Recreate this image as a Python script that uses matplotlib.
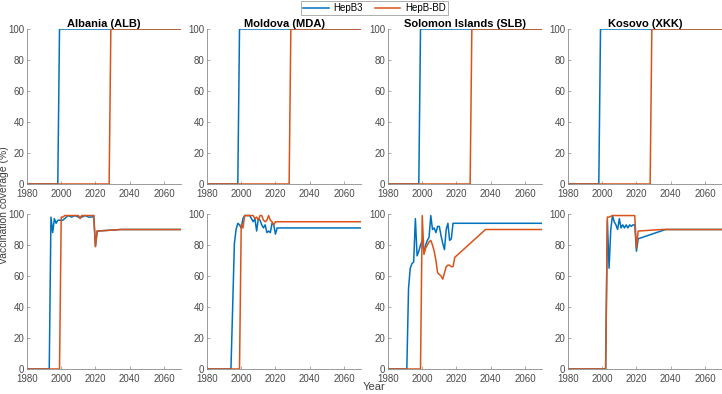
import numpy as np
import matplotlib.pyplot as plt

plt.rcParams['font.family'] = ['Liberation Sans', 'DejaVu Sans']

BLUE = '#0072BD'
ORANGE = '#D95319'

countries = ['Albania (ALB)', 'Moldova (MDA)', 'Solomon Islands (SLB)', 'Kosovo (XKK)']

# top row: same step scenario in all four countries
top_hepb3_years = [1980, 1998, 1999, 2070]
top_hepb3 = [0, 0, 100, 100]
top_bd_years = [1980, 2028, 2029, 2070]
top_bd = [0, 0, 100, 100]

# bottom row, per country
alb_hepb3_years = [1980, 1993, 1994, 1995, 1996, 1997, 1998, 1999, 2000, 2001, 2002, 2003,
                   2004, 2006, 2008, 2010, 2012, 2014, 2016, 2018, 2019, 2020, 2021, 2035, 2070]
alb_hepb3 = [0, 0, 98, 88, 97, 94, 96, 96, 96, 96, 97, 98,
             99, 98, 99, 98, 98, 99, 98, 98, 99, 79, 89, 90, 90]
alb_bd_years = [1980, 1999, 2000, 2001, 2002, 2004, 2006, 2008, 2010, 2011, 2012, 2014,
                2016, 2018, 2019, 2020, 2021, 2035, 2070]
alb_bd = [0, 0, 98, 98, 99, 99, 99, 99, 99, 97, 99, 99,
          99, 99, 99, 79, 89, 90, 90]

mda_hepb3_years = [1980, 1994, 1995, 1996, 1997, 1998, 1999, 2000, 2001, 2002, 2003, 2004,
                   2005, 2006, 2007, 2008, 2009, 2010, 2011, 2012, 2013, 2014, 2015, 2016,
                   2017, 2018, 2019, 2020, 2021, 2070]
mda_hepb3 = [0, 0, 40, 81, 90, 94, 93, 91, 97, 99, 99, 99,
             99, 97, 95, 97, 89, 97, 96, 93, 91, 93, 88, 89,
             88, 94, 93, 87, 91, 91]
mda_bd_years = [1980, 1999, 2000, 2001, 2002, 2003, 2004, 2005, 2006, 2007, 2008, 2009,
                2010, 2011, 2012, 2013, 2014, 2015, 2016, 2017, 2018, 2019, 2020, 2070]
mda_bd = [0, 0, 93, 91, 99, 99, 99, 99, 99, 99, 97, 98,
          96, 99, 99, 96, 95, 96, 99, 96, 95, 93, 95, 95]

slb_hepb3_years = [1980, 1991, 1992, 1993, 1994, 1995, 1996, 1997, 1998, 1999, 2000, 2001,
                   2002, 2003, 2004, 2005, 2006, 2007, 2008, 2009, 2010, 2011, 2012, 2013,
                   2014, 2015, 2016, 2017, 2018, 2070]
slb_hepb3 = [0, 0, 52, 65, 68, 69, 97, 73, 76, 80, 83, 75,
             80, 83, 85, 99, 90, 91, 88, 92, 92, 86, 81, 77,
             90, 94, 83, 84, 94, 94]
slb_bd_years = [1980, 1999, 2000, 2001, 2002, 2003, 2004, 2005, 2006, 2007, 2008, 2009,
                2010, 2011, 2012, 2013, 2014, 2015, 2016, 2017, 2018, 2019, 2020, 2037, 2070]
slb_bd = [0, 0, 99, 74, 78, 80, 82, 83, 80, 76, 70, 62,
          61, 60, 58, 62, 66, 67, 67, 66, 66, 72, 73, 90, 90]

xkk_hepb3_years = [1980, 2002, 2003, 2004, 2005, 2006, 2007, 2008, 2009, 2010, 2011, 2012,
                   2013, 2014, 2015, 2016, 2017, 2018, 2019, 2020, 2021, 2037, 2070]
xkk_hepb3 = [0, 0, 96, 65, 90, 99, 95, 93, 90, 97, 91, 93,
             91, 93, 91, 93, 92, 93, 93, 76, 84, 90, 90]
xkk_bd_years = [1980, 2002, 2003, 2004, 2006, 2008, 2010, 2012, 2014, 2016, 2018, 2019,
                2020, 2021, 2035, 2070]
xkk_bd = [0, 0, 98, 98, 99, 99, 99, 99, 99, 99, 99, 99,
          78, 89, 90, 90]

bottom = [
    (alb_hepb3_years, alb_hepb3, alb_bd_years, alb_bd),
    (mda_hepb3_years, mda_hepb3, mda_bd_years, mda_bd),
    (slb_hepb3_years, slb_hepb3, slb_bd_years, slb_bd),
    (xkk_hepb3_years, xkk_hepb3, xkk_bd_years, xkk_bd),
]

fig = plt.figure(figsize=(7.22, 3.94), dpi=100)
lefts = [27, 207, 388, 568]
W, H = 722, 394


def style(ax):
    ax.set_xlim(1980, 2070)
    ax.set_ylim(0, 100)
    ax.set_xticks(np.arange(1980, 2061, 20))
    ax.set_yticks(np.arange(0, 101, 20))
    for s in ['top', 'right']:
        ax.spines[s].set_visible(False)
    for s in ['left', 'bottom']:
        ax.spines[s].set_color('#8a8a8a')
        ax.spines[s].set_linewidth(0.6)
    ax.tick_params(direction='in', length=2.5, width=0.5, colors='#8a8a8a',
                   labelcolor='#4a4a4a', labelsize=7)
    ax.tick_params(axis='x', pad=3.5)
    ax.tick_params(axis='y', pad=2)


lines = None
for i, name in enumerate(countries):
    ax = fig.add_axes([lefts[i] / W, 1 - 184 / H, 154 / W, 155 / H])
    l1, = ax.plot(top_hepb3_years, top_hepb3, color=BLUE, lw=1.1, label='HepB3')
    l2, = ax.plot(top_bd_years, top_bd, color=ORANGE, lw=1.1, label='HepB-BD')
    ax.set_title(name, fontsize=8, fontweight='bold', pad=1)
    style(ax)
    lines = [l1, l2]

    ax2 = fig.add_axes([lefts[i] / W, 1 - 369 / H, 154 / W, 155 / H])
    hy, hv, by, bv = bottom[i]
    ax2.plot(hy, hv, color=BLUE, lw=1.1)
    ax2.plot(by, bv, color=ORANGE, lw=1.1)
    style(ax2)

leg = fig.legend(lines, ['HepB3', 'HepB-BD'], ncol=2, loc='center',
                 bbox_to_anchor=(374.5 / W, 1 - 8 / H), fontsize=7, frameon=True,
                 fancybox=False, borderpad=0.25, handlelength=2.6, columnspacing=1.2,
                 handletextpad=0.5)
leg.get_frame().set_edgecolor('#8a8a8a')
leg.get_frame().set_linewidth(0.6)

fig.text(4 / W, 1 - 205 / H, 'Vaccination coverage (%)', rotation=90, fontsize=7.5,
         color='#404040', ha='center', va='center')
fig.text(374 / W, 1 - 387 / H, 'Year', fontsize=8, color='#404040', ha='center', va='center')

fig.savefig('out.png', dpi=100)
